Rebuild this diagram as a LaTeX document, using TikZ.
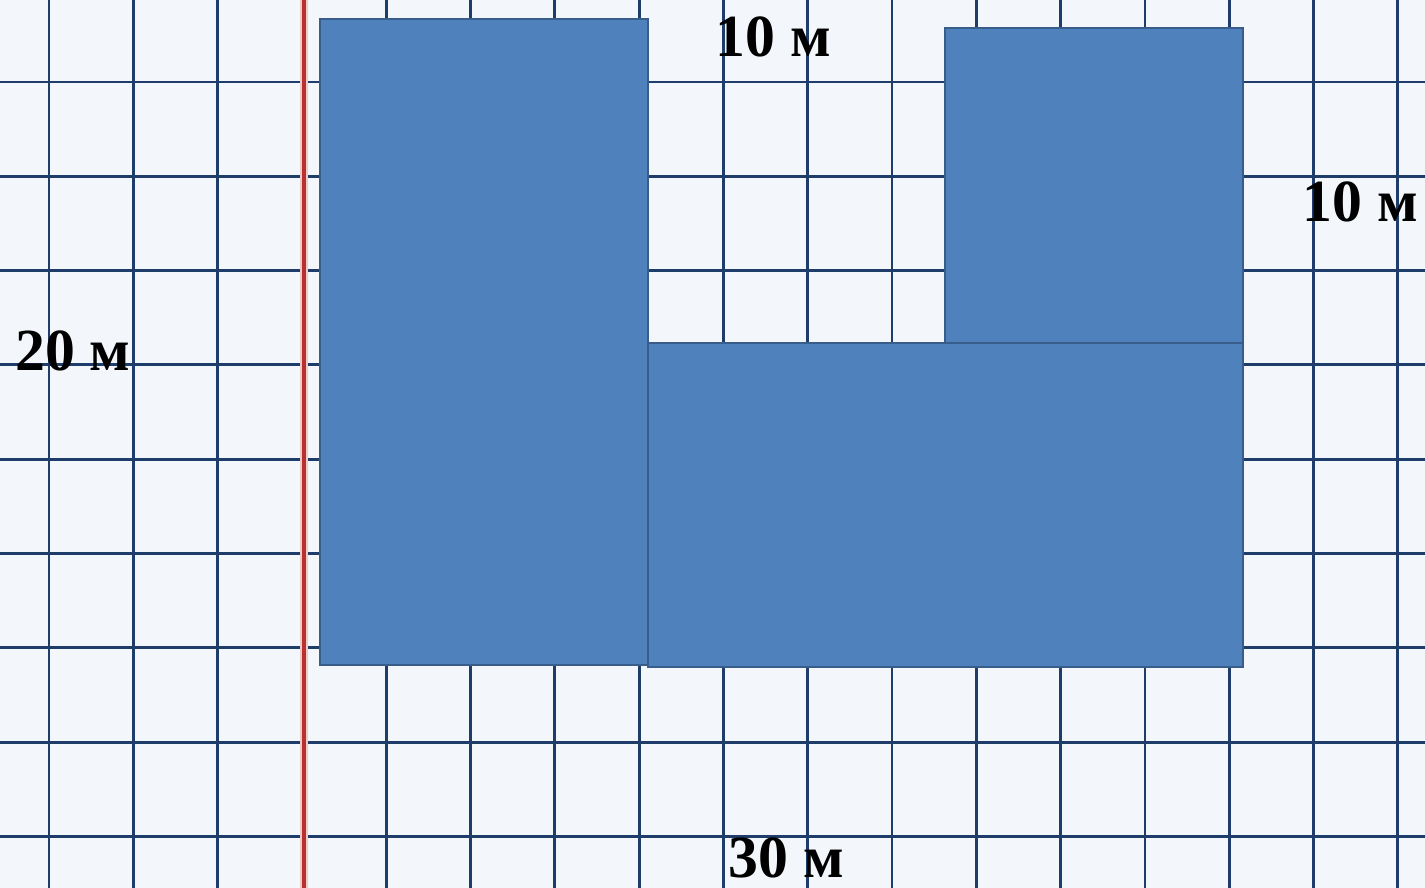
\documentclass[tikz,border=0pt]{standalone}
\usepackage{fontspec}
\setmainfont{Liberation Serif}
\definecolor{paper}{HTML}{F3F7FC}
\definecolor{gridblue}{HTML}{1F3D6A}
\definecolor{marginred}{HTML}{B8312F}
\definecolor{plotblue}{HTML}{4F81BD}
\definecolor{plotedge}{HTML}{385D8A}

\begin{document}
\begin{tikzpicture}[x=0.02cm, y=-0.02cm, line join=miter]
    \tikzset{
        gridline/.style={gridblue, line width=1.6pt},
        plot/.style={fill=plotblue, draw=plotedge, line width=1.5pt},
        size label/.style={font=\fontsize{34}{34}\selectfont\bfseries, inner sep=0pt}
    }

        % paper background
        \fill[paper] (0,0) rectangle (1425,888);
        \useasboundingbox (0,0) rectangle (1425,888);

        % grid lines
        \foreach \i in {0,...,16} {
            \draw[gridline] ({49+84.3*\i},0) -- ({49+84.3*\i},888);
        }
        \foreach \j in {0,...,8} {
            \draw[gridline] (0,{82+94.3*\j}) -- (1425,{82+94.3*\j});
        }

        % margin line (red)
        \draw[marginred!25, line width=5pt] (304,0) -- (304,888);
        \draw[marginred, line width=2.4pt] (304,0) -- (304,888);

        % plot of land
        \draw[plot] (320,19) rectangle (648,665); % left part
        \draw[plot] (648,343) rectangle (1243,667); % bottom part
        \draw[plot] (945,28) rectangle (1243,343); % top right part

        % sizes
        \node[size label] (top) at (773,37) {10 м};
        \node[size label] (right) at (1360,202) {10 м};
        \node[size label] (left) at (73,351) {20 м};
        \node[size label] (bottom) at (786,858) {30 м};

\end{tikzpicture}
\end{document}
